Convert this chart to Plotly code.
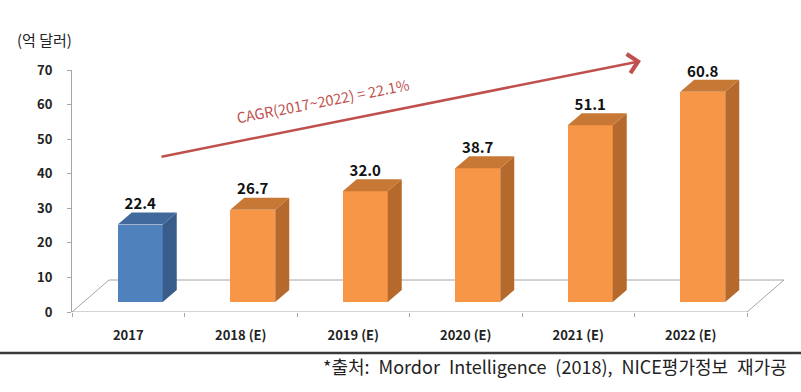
import plotly.graph_objects as go

# ---- data ----
years = ["2017", "2018 (E)", "2019 (E)", "2020 (E)", "2021 (E)", "2022 (E)"]
values = [22.4, 26.7, 32.0, 38.7, 51.1, 60.8]
value_labels = ["22.4", "26.7", "32.0", "38.7", "51.1", "60.8"]
is_actual = [True, False, False, False, False, False]
y_ticks = [0, 10, 20, 30, 40, 50, 60, 70]
unit_label = "(억 달러)"
cagr_label = "CAGR(2017~2022) = 22.1%"
source_label = "*출처: Mordor Intelligence (2018), NICE평가정보 재가공"

# ---- styling / geometry ----
W, H = 801, 392
ML, MR, MT, MB = 72, 11, 70, 80
PX_X = 112.5                      # pixels per category
PLOT_W = W - ML - MR
PLOT_H = H - MT - MB
Y_MAX = 70
PX_Y = PLOT_H / Y_MAX
X0 = -0.5
X1 = X0 + PLOT_W / PX_X

BAR_W = 0.4
BAR_SHIFT = 12 / PX_X            # bar sits inside the floor depth
BAR_BASE = 10 / PX_Y
DEPTH_X = 14 / PX_X
DEPTH_Y = 12 / PX_Y
FLOOR_DX = 37 / PX_X
FLOOR_DY = 32 / PX_Y

FRONT = {True: "#4f81bd", False: "#f79646"}
SIDE = {True: "#385d8a", False: "#b5692d"}
TOP = {True: "#41699c", False: "#c77835"}
FONT = "Noto Sans CJK KR"

fig = go.Figure()

xs = list(range(len(years)))
centers = [x + BAR_SHIFT for x in xs]

# front faces as real bars
fig.add_trace(go.Bar(
    x=centers, y=values, base=[BAR_BASE] * len(values), width=BAR_W,
    marker=dict(color=[FRONT[a] for a in is_actual], line=dict(width=0)),
    hoverinfo="skip", showlegend=False))

# side and top faces
for c, v, a in zip(centers, values, is_actual):
    xl, xr = c - BAR_W / 2, c + BAR_W / 2
    top = BAR_BASE + v
    fig.add_trace(go.Scatter(
        x=[xr, xr + DEPTH_X, xr + DEPTH_X, xr, xr],
        y=[BAR_BASE, BAR_BASE + DEPTH_Y, top + DEPTH_Y, top, BAR_BASE],
        fill="toself", fillcolor=SIDE[a], mode="lines", line=dict(width=0),
        hoverinfo="skip", showlegend=False))
    fig.add_trace(go.Scatter(
        x=[xl, xr, xr + DEPTH_X, xl + DEPTH_X, xl],
        y=[top, top, top + DEPTH_Y, top + DEPTH_Y, top],
        fill="toself", fillcolor=TOP[a], mode="lines", line=dict(width=0),
        hoverinfo="skip", showlegend=False))

# value labels
fig.add_trace(go.Scatter(
    x=centers, y=[BAR_BASE + v + DEPTH_Y + 7 / PX_Y for v in values],
    mode="text", text=value_labels, textposition="middle center",
    textfont=dict(family=FONT, size=15, color="#111111", weight="bold"),
    cliponaxis=False, hoverinfo="skip", showlegend=False))

# floor (3D base) lines
floor_col = "#a6a6a6"
n = len(years)
fl, fr = -0.5, n - 0.5
shapes = []
for (xa, ya, xb, yb) in [
    (fl, 0, fr, 0),
    (fl + FLOOR_DX, FLOOR_DY, fr + FLOOR_DX, FLOOR_DY),
    (fl, 0, fl + FLOOR_DX, FLOOR_DY),
    (fr, 0, fr + FLOOR_DX, FLOOR_DY),
]:
    shapes.append(dict(type="line", xref="x", yref="y", x0=xa, y0=ya, x1=xb, y1=yb,
                       line=dict(color=floor_col, width=1), layer="below"))

# bottom separator rule
rule_y = (MT + PLOT_H - 353) / PLOT_H
shapes.append(dict(type="line", xref="paper", yref="paper",
                   x0=-ML / PLOT_W, x1=(W - ML) / PLOT_W, y0=rule_y, y1=rule_y,
                   line=dict(color="#3a3a3a", width=2.5)))

# CAGR arrow
def px_to_data(px, py):
    return (px - ML) / PX_X + X0, (MT + PLOT_H - py) / PX_Y

tail = (160, 157)
head = (641, 61)
arrow_col = "#c0504d"
hx, hy = px_to_data(*head)
tx, ty = px_to_data(*tail)
annotations = [dict(x=hx, y=hy, ax=tx, ay=ty, xref="x", yref="y", axref="x", ayref="y",
                    text="", showarrow=True, arrowhead=4, arrowsize=1.5, arrowwidth=2.5,
                    arrowcolor=arrow_col)]

cx, cy = px_to_data(322, 100)
annotations.append(dict(x=cx, y=cy, xref="x", yref="y", text=cagr_label, showarrow=False,
                        textangle=-11, font=dict(family=FONT, size=14.5, color=arrow_col)))

annotations.append(dict(x=(15 - ML) / PLOT_W, y=(MT + PLOT_H - 40) / PLOT_H,
                        xref="paper", yref="paper", xanchor="left", yanchor="middle",
                        text=unit_label, showarrow=False,
                        font=dict(family=FONT, size=15, color="#222222")))

annotations.append(dict(x=(789 - ML) / PLOT_W, y=(MT + PLOT_H - 366) / PLOT_H,
                        xref="paper", yref="paper", xanchor="right", yanchor="middle",
                        text=source_label.replace(" ", "\u2002"), showarrow=False,
                        font=dict(family=FONT, size=18, color="#222222")))

fig.update_layout(
    width=W, height=H,
    margin=dict(l=ML, r=MR, t=MT, b=MB),
    paper_bgcolor="white", plot_bgcolor="white",
    shapes=shapes, annotations=annotations,
    bargap=0,
    xaxis=dict(range=[X0, X1], tickvals=xs, ticktext=years, ticks="",
               showgrid=False, zeroline=False, showline=False, ticklabelstandoff=14,
               tickfont=dict(family=FONT, size=13, color="#222222", weight="bold"),
               minor=dict(tickvals=[i - 0.5 for i in range(n + 1)], ticks="outside",
                          ticklen=4, tickcolor=floor_col, showgrid=False)),
    yaxis=dict(range=[0, Y_MAX], tickvals=y_ticks, ticks="outside", ticklen=4,
               tickcolor=floor_col, showline=True, linecolor=floor_col, linewidth=1,
               showgrid=False, zeroline=False, ticklabelstandoff=12,
               tickfont=dict(family=FONT, size=13, color="#222222", weight="bold")),
)

fig.write_html("out.html", config={"displayModeBar": False},
               post_script="document.body.style.margin='0';")
